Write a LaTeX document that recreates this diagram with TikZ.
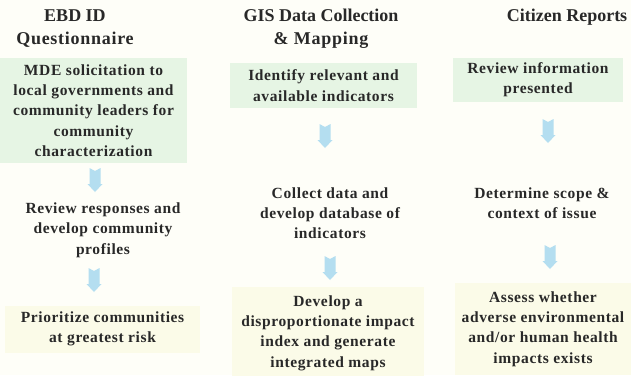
\documentclass[tikz,border=0pt]{standalone}
\usepackage{fontspec}
\setmainfont{Liberation Serif}[LetterSpace=4]
\begin{document}
\begin{tikzpicture}[x=1pt,y=-1pt,
  txt/.style={align=center,inner sep=0pt,text=textgray,font=\fontsize{15.5}{20.3}\selectfont\bfseries},
  head/.style={align=center,inner sep=0pt,text=textgray,font=\fontsize{18}{22.5}\selectfont\bfseries},
  blkarr/.pic={\fill[arrowblue] (-5.5,0) -- (0,3) -- (5.5,0) -- (5.5,16) -- (7.5,16) -- (0,24) -- (-7.5,16) -- (-5.5,16) -- cycle;}
]
\definecolor{textgray}{RGB}{40,40,40}
\definecolor{boxgreen}{RGB}{230,245,228}
\definecolor{boxyellow}{RGB}{251,251,232}
\definecolor{arrowblue}{RGB}{180,222,240}
\definecolor{bg}{RGB}{254,254,248}
\fill[bg] (0,0) rectangle (631,375);
\useasboundingbox (0,0) rectangle (631,375);

% headings
\node[head] (h1) at (75,28.5) {\addfontfeature{LetterSpace=0}EBD ID\\Questionnaire};
\node[head] (h2) at (321,28.5) {\addfontfeature{LetterSpace=0}GIS Data Collection\\\& Mapping};
\node[head] (h3) at (567,17) {\addfontfeature{LetterSpace=0}Citizen Reports};

% column 1
\node[txt,fill=boxgreen,minimum width=187pt,minimum height=105pt] (a1) at (93.5,110.5)
  {MDE solicitation to\\local governments and\\community leaders for\\community\\characterization};
\node[txt] (a2) at (103,230) {Review responses and\\develop community\\profiles};
\node[txt,fill=boxyellow,minimum width=195pt,minimum height=47pt] (a3) at (102.5,329)
  {Prioritize communities\\at greatest risk};
\pic at (95,168) {blkarr};
\pic at (94,268) {blkarr};

% column 2
\node[txt,fill=boxgreen,minimum width=187pt,minimum height=45pt] (b1) at (323.5,85.5)
  {Identify relevant and\\available indicators};
\node[txt] (b2) at (330,213) {Collect data and\\develop database of\\indicators};
\node[txt,fill=boxyellow,minimum width=192pt,minimum height=92pt] (b3) at (328,333)
  {Develop a\\disproportionate impact\\index and generate\\integrated maps};
\pic at (325,124) {blkarr};
\pic at (330,256) {blkarr};

% column 3
\node[txt,fill=boxgreen,minimum width=170pt,minimum height=44pt] (c1) at (538,80)
  {Review information\\presented};
\node[txt] (c2) at (542,203) {Determine scope \&\\context of issue};
\node[txt,fill=boxyellow,minimum width=176pt,minimum height=92pt] (c3) at (543,329)
  {Assess whether\\adverse environmental\\and/or human health\\impacts exists};
\pic at (548,119) {blkarr};
\pic at (550,245) {blkarr};
\end{tikzpicture}
\end{document}
